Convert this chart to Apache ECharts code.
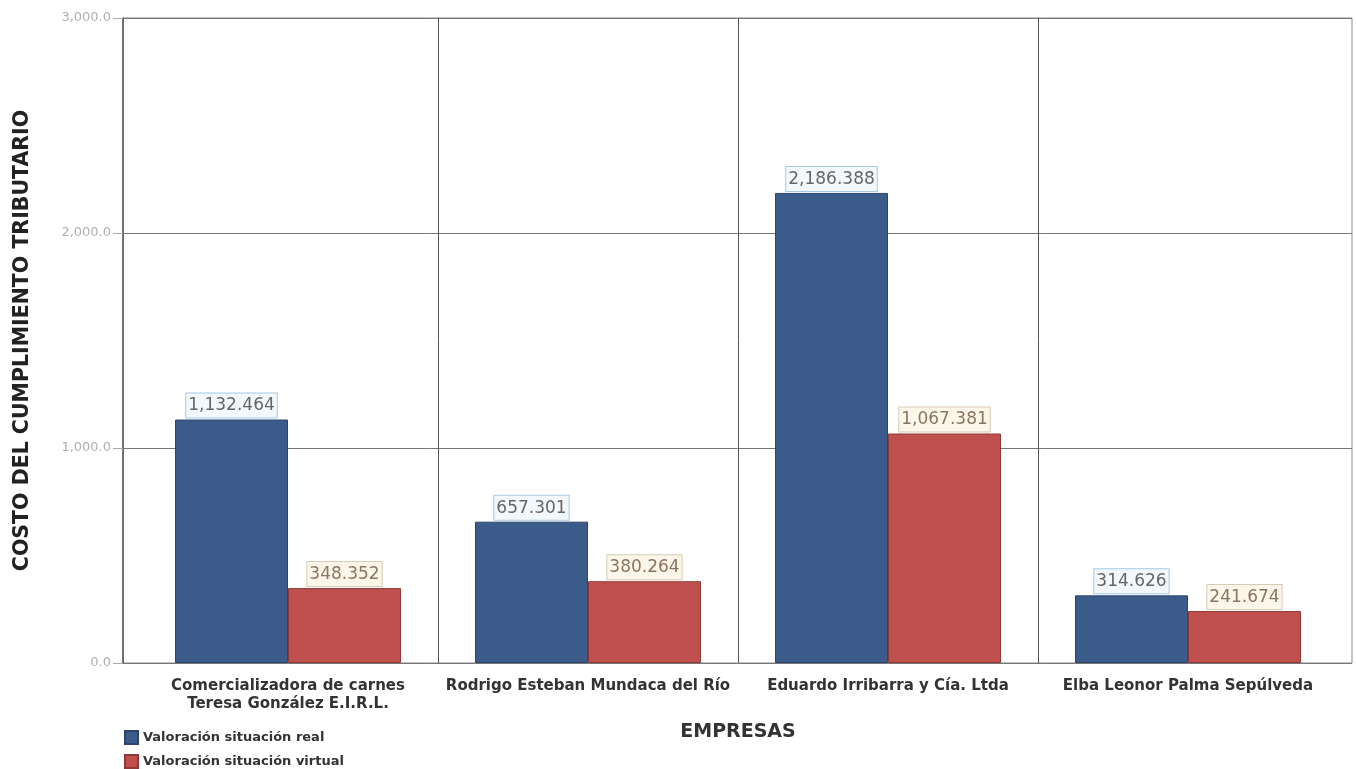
<!DOCTYPE html>
<html><head><meta charset="utf-8">
<script src="https://cdn.jsdelivr.net/npm/echarts@6/dist/echarts.min.js"></script>
<style>html,body{margin:0;padding:0;background:#fff}#c{width:1356px;height:769px}</style>
</head><body><div id="c"></div>
<script>
const categories = ["Comercializadora de carnes\nTeresa González E.I.R.L.", "Rodrigo Esteban Mundaca del Río", "Eduardo Irribarra y Cía. Ltda", "Elba Leonor Palma Sepúlveda"];
const seriesNames = ["Valoración situación real", "Valoración situación virtual"];
const realValues = [1132.464, 657.301, 2186.388, 314.626];
const virtualValues = [348.352, 380.264, 1067.381, 241.674];
const yTicks = [0, 1000, 2000, 3000];

const F = "'DejaVu Sans', Verdana, sans-serif";
function fmt(v, d) {
  return v.toLocaleString('en-US', {minimumFractionDigits: d, maximumFractionDigits: d});
}
const chart = echarts.init(document.getElementById('c'));
chart.setOption({
  animation: false,
  textStyle: {fontFamily: F},
  grid: [
    {left: 123, right: 4, top: 18, bottom: 106, show: true, borderColor: '#8a8a8a', borderWidth: 1, backgroundColor: '#fff'},
    {left: 138, right: 18, top: 18, bottom: 106}
  ],
  legend: {
    orient: 'vertical', left: 124, top: 730, padding: 0, itemWidth: 13, itemHeight: 13, itemGap: 9,
    icon: 'rect',
    textStyle: {fontFamily: F, fontSize: 13, fontWeight: 'bold', color: '#333'},
    data: seriesNames
  },
  xAxis: [
    {gridIndex: 0, type: 'value', show: false, min: 0, max: 1},
    {gridIndex: 1, type: 'category', data: categories,
     axisLine: {show: false}, axisTick: {show: false},
     splitLine: {show: true, interval: 0, showMinLine: false, showMaxLine: false, lineStyle: {color: '#555', width: 1}},
     axisLabel: {interval: 0, fontFamily: F, fontSize: 15, fontWeight: 'bold', color: '#333', margin: 14, lineHeight: 18},
     name: 'EMPRESAS', nameLocation: 'middle', nameGap: 60,
     nameTextStyle: {fontFamily: F, fontSize: 19, fontWeight: 'bold', color: '#333'}}
  ],
  yAxis: [
    {gridIndex: 0, type: 'value', min: yTicks[0], max: yTicks[yTicks.length - 1], interval: 1000,
     axisLine: {show: true, lineStyle: {color: '#555', width: 1.5}},
     axisTick: {show: true, length: 10, lineStyle: {color: '#aaa'}},
     splitLine: {show: true, lineStyle: {color: '#777', width: 1}},
     axisLabel: {fontFamily: F, fontSize: 13, color: '#b0b0b0', margin: 12, formatter: v => fmt(v, 1)},
     name: 'COSTO DEL CUMPLIMIENTO TRIBUTARIO', nameLocation: 'middle', nameGap: 90,
     nameTextStyle: {fontFamily: F, fontSize: 20.5, fontWeight: 'bold', color: '#222'}},
    {gridIndex: 1, type: 'value', min: 0, max: 3000, show: false, splitLine: {show: false}}
  ],
  series: [
    {name: seriesNames[0], type: 'bar', xAxisIndex: 1, yAxisIndex: 1, data: realValues,
     barWidth: 113, barGap: '0%',
     itemStyle: {color: '#3b5b8a', borderColor: '#2c4669', borderWidth: 1},
     label: {show: true, position: 'top', distance: 2, fontFamily: F, fontSize: 17, color: '#666',
       backgroundColor: '#f3f8fc', borderColor: '#a6c9e6', borderWidth: 1, padding: [4, 2, 3, 2],
       formatter: p => fmt(p.value, 3)}},
    {name: seriesNames[1], type: 'bar', xAxisIndex: 1, yAxisIndex: 1, data: virtualValues,
     barWidth: 113, barGap: '0%',
     itemStyle: {color: '#c0504d', borderColor: '#8f3a38', borderWidth: 1},
     label: {show: true, position: 'top', distance: 2, fontFamily: F, fontSize: 17, color: '#8a7560',
       backgroundColor: '#fcf6ea', borderColor: '#d8cbb5', borderWidth: 1, padding: [4, 2, 3, 2],
       formatter: p => fmt(p.value, 3)}}
  ]
});
</script></body></html>
